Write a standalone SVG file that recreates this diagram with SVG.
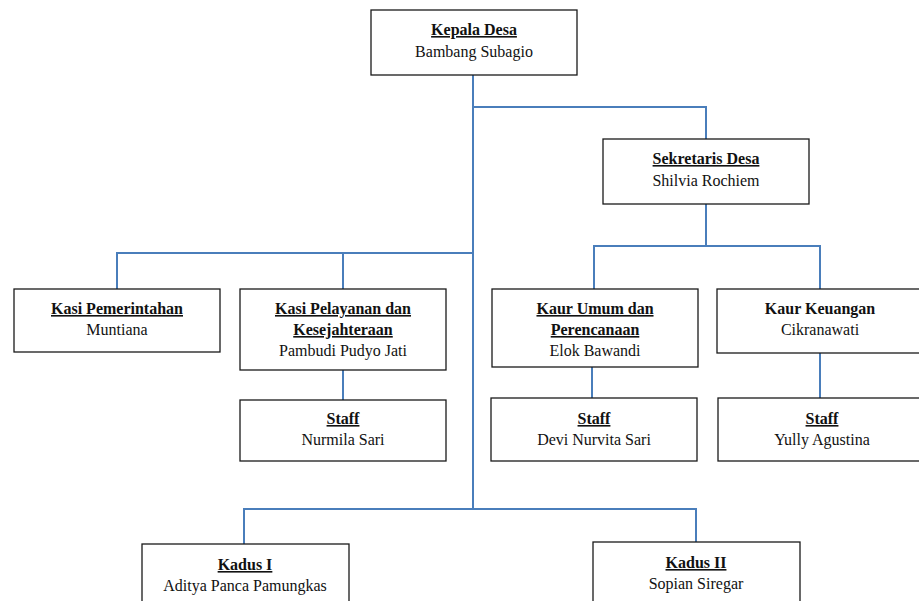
<svg xmlns="http://www.w3.org/2000/svg" width="919" height="601" viewBox="0 0 919 601">
<style>
.box{fill:#fff;stroke:#1a1a1a;stroke-width:1.3}
.t{font-family:"Liberation Serif","Times New Roman",serif;font-size:16px;text-anchor:middle;fill:#111}
.h{font-weight:bold;text-decoration:underline}
.c{fill:none;stroke:#4a7ebb;stroke-width:2}
</style>
<rect width="919" height="601" fill="#fff"/>
<g id="connectors">
<path class="c" d="M473,75 V509"/>
<path class="c" d="M473,107 H706 V139"/>
<path class="c" d="M706,204 V246"/>
<path class="c" d="M594,289 V246 H820 V289"/>
<path class="c" d="M117,289 V253 H473"/>
<path class="c" d="M343,253 V289"/>
<path class="c" d="M343,370 V400"/>
<path class="c" d="M592,367 V398"/>
<path class="c" d="M820,353 V398"/>
<path class="c" d="M244,544 V509 H696 V542"/>
</g>
<g id="kepala-desa">
<rect class="box" x="371" y="10" width="206" height="65"/>
<text class="t h" x="474" y="35">Kepala Desa</text>
<text class="t" x="474" y="57">Bambang Subagio</text>
</g>
<g id="sekretaris-desa">
<rect class="box" x="603" y="139" width="206" height="65"/>
<text class="t h" x="706" y="164">Sekretaris Desa</text>
<text class="t" x="706" y="186">Shilvia Rochiem</text>
</g>
<g id="kasi-pemerintahan">
<rect class="box" x="14" y="289" width="206" height="63"/>
<text class="t h" x="117" y="314">Kasi Pemerintahan</text>
<text class="t" x="117" y="335">Muntiana</text>
</g>
<g id="kasi-pelayanan">
<rect class="box" x="240" y="289" width="206" height="81"/>
<text class="t h" x="343" y="314">Kasi Pelayanan dan</text>
<text class="t h" x="343" y="335">Kesejahteraan</text>
<text class="t" x="343" y="356">Pambudi Pudyo Jati</text>
</g>
<g id="staff-nurmila">
<rect class="box" x="240" y="400" width="206" height="61"/>
<text class="t h" x="343" y="424">Staff</text>
<text class="t" x="343" y="445">Nurmila Sari</text>
</g>
<g id="kaur-umum">
<rect class="box" x="492" y="289" width="206" height="78"/>
<text class="t h" x="595" y="314">Kaur Umum dan</text>
<text class="t h" x="595" y="335">Perencanaan</text>
<text class="t" x="595" y="356">Elok Bawandi</text>
</g>
<g id="kaur-keuangan">
<rect class="box" x="717" y="289" width="206" height="64"/>
<text class="t" x="820" y="314" font-weight="bold">Kaur Keuangan</text>
<text class="t" x="820" y="335">Cikranawati</text>
</g>
<g id="staff-devi">
<rect class="box" x="491" y="398" width="206" height="63"/>
<text class="t h" x="594" y="424">Staff</text>
<text class="t" x="594" y="445">Devi Nurvita Sari</text>
</g>
<g id="staff-yully">
<rect class="box" x="718" y="398" width="206" height="63"/>
<text class="t h" x="822" y="424">Staff</text>
<text class="t" x="822" y="445">Yully Agustina</text>
</g>
<g id="kadus-1">
<rect class="box" x="142" y="544" width="207" height="70"/>
<text class="t h" x="245" y="570">Kadus I</text>
<text class="t" x="245" y="591">Aditya Panca Pamungkas</text>
</g>
<g id="kadus-2">
<rect class="box" x="593" y="542" width="207" height="70"/>
<text class="t h" x="696" y="568">Kadus II</text>
<text class="t" x="696" y="589">Sopian Siregar</text>
</g>
</svg>
